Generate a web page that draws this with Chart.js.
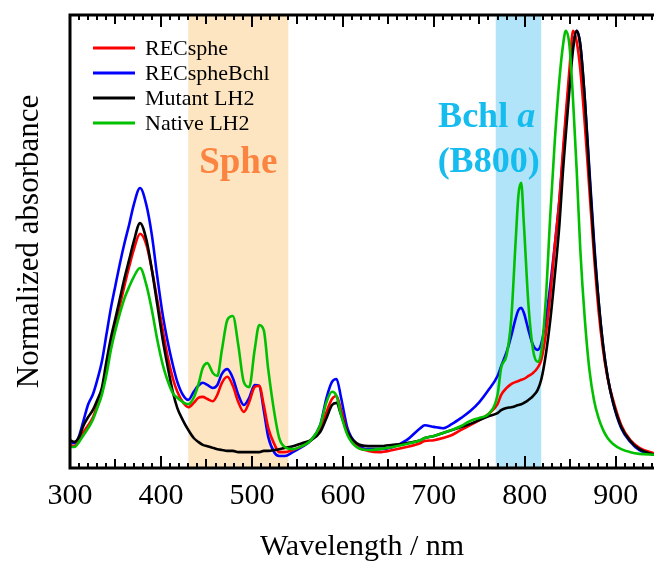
<title>Absorption spectra</title>
<meta charset="UTF-8">
<body style="margin:0; background:#fff">
<script src="https://cdn.jsdelivr.net/npm/chart.js@4/dist/chart.umd.min.js"></script>
<div style="width:654px; height:562px; position:relative">
<canvas id="chart1"></canvas>
</div>

<script>
// wavelength grid (nm) shared by all spectra
var wl = [300,305,310,315,320,325,330,335,340,345,350,355,360,365,370,377,
  384,390,396,402,407,413,418,424,430,
  436,441,446,451,457,462,467,473,479,485,491,497,503,508,513,518,525,530,536,
  545,555,565,575,582,588,593,598,605,615,628,640,655,670,685,690,700,710,720,730,740,750,760,770,
  774,780,785,790,793,796,799,804,809,814,818,823,828,833,838,842,845,849,853,857,861,866,871,876,881,886,891,897,906,916,926,942];

var recsphe = [0.033,0.030,0.044,0.063,0.079,0.096,0.126,0.157,0.208,0.266,0.313,0.360,0.406,0.449,0.488,0.526,
  0.500,0.442,0.371,0.301,0.243,0.189,0.157,0.133,0.121,
  0.131,0.143,0.145,0.140,0.135,0.150,0.178,0.192,0.171,0.133,0.110,0.133,0.168,0.171,0.126,0.072,0.033,0.016,0.016,
  0.021,0.030,0.044,0.068,0.110,0.140,0.147,0.114,0.063,0.030,0.019,0.016,0.021,0.028,0.037,0.042,0.044,0.049,0.056,0.068,0.079,0.091,0.105,0.128,
  0.150,0.166,0.175,0.180,0.182,0.185,0.187,0.194,0.201,0.213,0.231,0.290,0.383,0.500,0.605,0.722,0.804,0.909,1.000,0.975,0.909,0.780,0.628,0.477,0.348,0.255,0.189,0.138,0.079,0.044,0.026,0.013];

var recsphebchl = [0.040,0.037,0.054,0.091,0.128,0.150,0.185,0.227,0.290,0.353,0.406,0.458,0.505,0.547,0.593,0.633,
  0.593,0.523,0.425,0.336,0.278,0.220,0.180,0.150,0.138,
  0.157,0.171,0.178,0.173,0.166,0.173,0.199,0.210,0.189,0.150,0.126,0.143,0.173,0.171,0.114,0.051,0.014,0.007,0.007,
  0.016,0.028,0.044,0.079,0.143,0.180,0.187,0.143,0.072,0.035,0.023,0.023,0.028,0.044,0.072,0.079,0.075,0.072,0.082,0.096,0.112,0.133,0.161,0.194,
  0.217,0.250,0.287,0.329,0.348,0.353,0.341,0.301,0.266,0.255,0.269,0.325,0.406,0.500,0.605,0.710,0.792,0.890,0.967,1.000,0.967,0.839,0.675,0.512,0.371,0.266,0.192,0.131,0.072,0.040,0.021,0.010];

var mutant = [0.044,0.040,0.051,0.079,0.098,0.114,0.138,0.166,0.227,0.283,0.329,0.376,0.423,0.465,0.507,0.551,
  0.512,0.442,0.360,0.278,0.220,0.157,0.119,0.091,0.068,
  0.049,0.040,0.033,0.030,0.026,0.023,0.021,0.019,0.019,0.016,0.016,0.016,0.016,0.016,0.019,0.019,0.021,0.023,0.026,
  0.030,0.037,0.044,0.063,0.096,0.126,0.131,0.103,0.063,0.037,0.030,0.030,0.033,0.037,0.044,0.049,0.054,0.061,0.068,0.075,0.082,0.091,0.100,0.107,
  0.114,0.119,0.121,0.124,0.126,0.128,0.131,0.138,0.147,0.161,0.185,0.243,0.325,0.430,0.547,0.675,0.757,0.862,0.956,1.000,0.967,0.839,0.664,0.500,0.371,0.266,0.192,0.133,0.075,0.042,0.023,0.010];

var native = [0.028,0.028,0.040,0.056,0.072,0.091,0.119,0.150,0.196,0.255,0.301,0.341,0.376,0.402,0.425,0.446,
  0.406,0.348,0.278,0.220,0.185,0.154,0.143,0.133,0.128,
  0.143,0.173,0.213,0.224,0.201,0.194,0.255,0.325,0.334,0.266,0.180,0.168,0.255,0.313,0.301,0.208,0.103,0.049,0.028,
  0.023,0.030,0.044,0.079,0.133,0.157,0.147,0.103,0.056,0.028,0.021,0.023,0.028,0.035,0.044,0.049,0.054,0.061,0.068,0.077,0.089,0.096,0.105,0.150,
  0.213,0.243,0.325,0.512,0.617,0.645,0.547,0.360,0.255,0.227,0.250,0.371,0.570,0.745,0.886,0.967,1.000,0.967,0.839,0.675,0.488,0.325,0.208,0.138,0.096,0.068,0.049,0.035,0.023,0.016,0.012,0.010];

var names = ["RECsphe", "RECspheBchl", "Mutant LH2", "Native LH2"];
var xTicks = [300, 400, 500, 600, 700, 800, 900];

// absorption bands (nm)
var bandFrom = [430, 768];
var bandTo = [540, 818];

var SERIF = "'Liberation Serif', 'Times New Roman', serif";

function pts(v) {
  return wl.map(function(w, i) { return {x: w, y: v[i]}; });
}

var colors = ["#ff0000", "#0000ff", "#000000", "#00c000"];
var series = [recsphe, recsphebchl, mutant, native];
var order = [2, 3, 1, 0];

var deco = {
  id: "deco",
  beforeDatasetsDraw: function(chart) {
    var ctx = chart.ctx, a = chart.chartArea, x = chart.scales.x;
    var fills = ["#fde5c2", "#b1e4f9"];
    ctx.save();
    for (var i = 0; i < bandFrom.length; i++) {
      var x0 = x.getPixelForValue(bandFrom[i]), x1 = x.getPixelForValue(bandTo[i]);
      ctx.fillStyle = fills[i];
      ctx.fillRect(x0, a.top, x1 - x0, a.bottom - a.top);
    }
    ctx.restore();
  },
  afterDraw: function(chart) {
    var ctx = chart.ctx, a = chart.chartArea, x = chart.scales.x;
    ctx.save();
    // ticks, top and bottom, pointing inward
    ctx.strokeStyle = "#000";
    ctx.lineWidth = 2;
    ctx.beginPath();
    for (var v = 300; v <= 940; v += 10) {
      var len = v % 100 == 0 ? 12 : (v % 50 == 0 ? 9 : 5);
      var px = Math.round(x.getPixelForValue(v));
      ctx.moveTo(px, a.bottom);
      ctx.lineTo(px, a.bottom - len);
      ctx.moveTo(px, a.top);
      ctx.lineTo(px, a.top + len);
    }
    ctx.stroke();
    // frame
    ctx.lineWidth = 3;
    ctx.beginPath();
    ctx.moveTo(a.right + 2, a.top);
    ctx.lineTo(a.left, a.top);
    ctx.lineTo(a.left, a.bottom);
    ctx.lineTo(a.right + 2, a.bottom);
    ctx.stroke();

    // legend
    ctx.font = "22px " + SERIF;
    ctx.textBaseline = "middle";
    ctx.textAlign = "left";
    for (var i = 0; i < names.length; i++) {
      var yy = a.top + 33 + i * 25;
      ctx.strokeStyle = colors[i];
      ctx.lineWidth = 3;
      ctx.beginPath();
      ctx.moveTo(a.left + 23, yy);
      ctx.lineTo(a.left + 65, yy);
      ctx.stroke();
      ctx.fillStyle = "#000";
      ctx.fillText(names[i], a.left + 75, yy + 1);
    }

    // band labels
    ctx.textBaseline = "alphabetic";
    ctx.textAlign = "center";
    ctx.font = "bold 37px " + SERIF;
    ctx.fillStyle = "#fb8440";
    ctx.fillText("Sphe", x.getPixelForValue(485), a.top + 158);

    ctx.fillStyle = "#16bcee";
    var cx = x.getPixelForValue(758);
    ctx.font = "bold 36px " + SERIF;
    var w1 = ctx.measureText("Bchl ").width;
    ctx.font = "italic bold 36px " + SERIF;
    var w2 = ctx.measureText("a").width;
    ctx.textAlign = "left";
    ctx.font = "bold 36px " + SERIF;
    ctx.fillText("Bchl ", cx - (w1 + w2) / 2, a.top + 112);
    ctx.font = "italic bold 36px " + SERIF;
    ctx.fillText("a", cx - (w1 + w2) / 2 + w1, a.top + 112);
    ctx.textAlign = "center";
    ctx.font = "bold 36px " + SERIF;
    ctx.fillText("(B800)", cx + 2, a.top + 157);
    ctx.restore();
  }
};

new Chart("chart1", {
  type: "line",
  data: {
    datasets: series.map(function(s, i) {
      return {
        label: names[i],
        data: pts(s),
        borderColor: colors[i],
        borderWidth: 2.6,
        pointRadius: 0,
        fill: false,
        cubicInterpolationMode: "monotone",
        order: order[i]
      };
    })
  },
  options: {
    responsive: true,
    maintainAspectRatio: false,
    animation: false,
    layout: {padding: {top: 15, right: 0, left: 0, bottom: 0}},
    plugins: {legend: {display: false}, tooltip: {enabled: false}},
    scales: {
      x: {
        type: "linear",
        min: 300,
        max: 942,
        afterFit: function(s) { s.height = 94; },
        afterBuildTicks: function(s) { s.ticks = xTicks.map(function(v) { return {value: v}; }); },
        grid: {display: false, drawTicks: false},
        border: {display: false},
        ticks: {color: "#000", padding: 10, maxRotation: 0, font: {family: SERIF, size: 30}},
        title: {display: true, text: "Wavelength / nm", color: "#000", padding: 0,
          font: {family: SERIF, size: 30, lineHeight: 1}}
      },
      y: {
        min: -0.021,
        max: 1.037,
        afterFit: function(s) { s.width = 70; },
        grid: {display: false, drawTicks: false},
        border: {display: false},
        ticks: {display: false},
        title: {display: true, text: "Normalized absorbance", color: "#000", padding: {top: 11, bottom: 0},
          font: {family: SERIF, size: 31, lineHeight: 1.2}}
      }
    }
  },
  plugins: [deco]
});
</script>
